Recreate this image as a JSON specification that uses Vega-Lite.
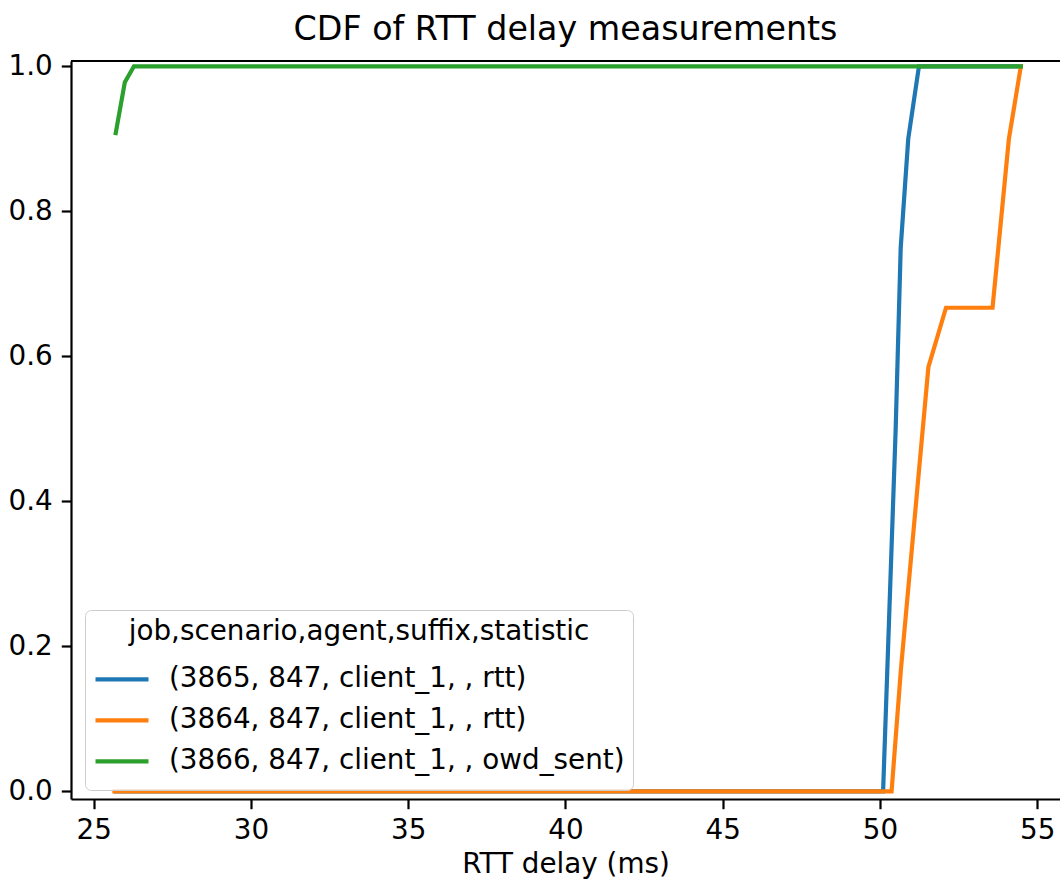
{
  "$schema": "https://vega.github.io/schema/vega-lite/v6.json",
  "width": 989,
  "height": 738,
  "autosize": {"type": "none"},
  "padding": {"left": 71, "top": 61, "right": 0, "bottom": 87},
  "background": "white",
  "title": {"text": "CDF of RTT delay measurements", "fontSize": 33.3, "font": "DejaVu Sans", "fontWeight": "normal", "color": "black", "anchor": "middle", "offset": 5},
  "config": {"view": {"stroke": null}, "font": "DejaVu Sans"},
  "data": {"values": [
    {"series": "(3865, 847, client_1, , rtt)", "x": 25.70, "cdf": 0},
    {"series": "(3865, 847, client_1, , rtt)", "x": 50.10, "cdf": 0},
    {"series": "(3865, 847, client_1, , rtt)", "x": 50.50, "cdf": 0.50},
    {"series": "(3865, 847, client_1, , rtt)", "x": 50.66, "cdf": 0.75},
    {"series": "(3865, 847, client_1, , rtt)", "x": 50.90, "cdf": 0.90},
    {"series": "(3865, 847, client_1, , rtt)", "x": 51.24, "cdf": 1.0},
    {"series": "(3865, 847, client_1, , rtt)", "x": 54.48, "cdf": 1.0},
    {"series": "(3864, 847, client_1, , rtt)", "x": 25.66, "cdf": 0},
    {"series": "(3864, 847, client_1, , rtt)", "x": 50.37, "cdf": 0},
    {"series": "(3864, 847, client_1, , rtt)", "x": 50.67, "cdf": 0.17},
    {"series": "(3864, 847, client_1, , rtt)", "x": 51.54, "cdf": 0.585},
    {"series": "(3864, 847, client_1, , rtt)", "x": 52.10, "cdf": 0.667},
    {"series": "(3864, 847, client_1, , rtt)", "x": 53.58, "cdf": 0.667},
    {"series": "(3864, 847, client_1, , rtt)", "x": 54.10, "cdf": 0.90},
    {"series": "(3864, 847, client_1, , rtt)", "x": 54.48, "cdf": 1.0},
    {"series": "(3866, 847, client_1, , owd_sent)", "x": 25.70, "cdf": 0.908},
    {"series": "(3866, 847, client_1, , owd_sent)", "x": 25.99, "cdf": 0.978},
    {"series": "(3866, 847, client_1, , owd_sent)", "x": 26.28, "cdf": 1.0},
    {"series": "(3866, 847, client_1, , owd_sent)", "x": 54.48, "cdf": 1.0}
  ]},
  "layer": [
    {
      "mark": {"type": "line", "strokeWidth": 4.2, "strokeCap": "square", "clip": true},
      "encoding": {
        "x": {
          "field": "x", "type": "quantitative",
          "scale": {"domain": [24.278, 55.725], "nice": false, "zero": false},
          "axis": {
            "values": [25, 30, 35, 40, 45, 50, 55], "format": "d",
            "labelFont": "DejaVu Sans", "labelFontSize": 27.8, "labelColor": "black", "labelPadding": 8,
            "tickSize": 9.7, "tickWidth": 2.2, "tickColor": "black",
            "domainColor": "black", "domainWidth": 2.2, "grid": false,
            "title": "RTT delay (ms)", "titleFont": "DejaVu Sans", "titleFontSize": 27.8, "titleFontWeight": "normal", "titleColor": "black", "titlePadding": 6
          }
        },
        "y": {
          "field": "cdf", "type": "quantitative",
          "scale": {"domain": [-0.0105, 1.0073], "nice": false, "zero": false},
          "axis": {
            "values": [0, 0.2, 0.4, 0.6, 0.8, 1.0], "format": ".1f",
            "labelFont": "DejaVu Sans", "labelFontSize": 27.8, "labelColor": "black", "labelPadding": 9,
            "tickSize": 9.7, "tickWidth": 2.2, "tickColor": "black",
            "domainColor": "black", "domainWidth": 2.2, "grid": false, "title": null
          }
        },
        "color": {
          "field": "series", "type": "nominal",
          "scale": {
            "domain": ["(3865, 847, client_1, , rtt)", "(3864, 847, client_1, , rtt)", "(3866, 847, client_1, , owd_sent)"],
            "range": ["#1f77b4", "#ff7f0e", "#2ca02c"]
          },
          "legend": {
            "orient": "none", "legendX": 14, "legendY": 549,
            "title": "job,scenario,agent,suffix,statistic",
            "titleFont": "DejaVu Sans", "titleFontSize": 27.8, "titleFontWeight": "normal", "titleColor": "black", "titleAnchor": "middle", "titleLimit": 2000,
            "titlePadding": 13,
            "labelFont": "DejaVu Sans", "labelFontSize": 27.8, "labelColor": "black", "labelOffset": 18, "labelLimit": 0,
            "symbolType": "stroke", "symbolSize": 2809, "symbolStrokeWidth": 4.2,
            "clipHeight": 41, "rowPadding": 0,
            "padding": 8, "fillColor": "rgba(255,255,255,0.8)", "strokeColor": "#cccccc", "cornerRadius": 6
          }
        }
      }
    },
    {
      "mark": {"type": "rule", "color": "black", "strokeWidth": 2.2},
      "encoding": {"y": {"datum": 1.0073}}
    }
  ]
}
